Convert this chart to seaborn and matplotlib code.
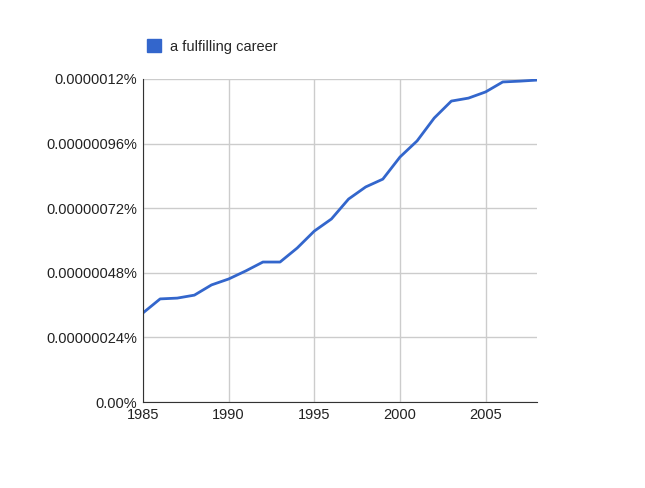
import matplotlib
matplotlib.use("Agg")
import matplotlib.pyplot as plt
from matplotlib.patches import Patch
import seaborn as sns
import pandas as pd

years = list(range(1985, 2009))
# values in units of 1e-6 percent
freq = [0.331, 0.383, 0.386, 0.397, 0.435, 0.457, 0.487, 0.520, 0.520, 0.572,
        0.635, 0.680, 0.754, 0.799, 0.828, 0.910, 0.970, 1.055, 1.118, 1.129,
        1.152, 1.189, 1.192, 1.196]
ytick_vals = [0, 0.24, 0.48, 0.72, 0.96, 1.2]
ytick_labels = ["0.00%", "0.00000024%", "0.00000048%", "0.00000072%", "0.00000096%", "0.0000012%"]
xtick_vals = [1985, 1990, 1995, 2000, 2005]

df = pd.DataFrame({"year": years, "freq": freq})

sns.set_style("white")
plt.rcParams['font.family'] = ['Liberation Sans', 'DejaVu Sans']
fig = plt.figure(figsize=(6.45, 4.88), dpi=100)
ax = fig.add_axes([143/645, 1-402/488, (537-143)/645, (402-79)/488])

sns.lineplot(data=df, x="year", y="freq", ax=ax, color="#3366cc", linewidth=2)
ax.set_xlim(1985, 2008)
ax.set_ylim(0, 1.2)
ax.set_yticks(ytick_vals)
ax.set_yticklabels(ytick_labels)
ax.set_xticks(xtick_vals)
ax.grid(True, color="#cccccc", linewidth=1)
ax.set_xlabel("")
ax.set_ylabel("")
for s in ["top", "right"]:
    ax.spines[s].set_visible(False)
ax.spines["left"].set_color("#333333")
ax.spines["bottom"].set_color("#333333")
ax.tick_params(labelsize=10.5, length=0, colors="#222222", pad=4)
ax.legend(handles=[Patch(color="#3366cc", label="a fulfilling career")],
          loc="lower left", bbox_to_anchor=(-0.005, 1.06), frameon=False,
          handlelength=1.0, handleheight=1.0, handletextpad=0.6,
          fontsize=10.5, borderaxespad=0)
fig.savefig("out.png", dpi=100)
